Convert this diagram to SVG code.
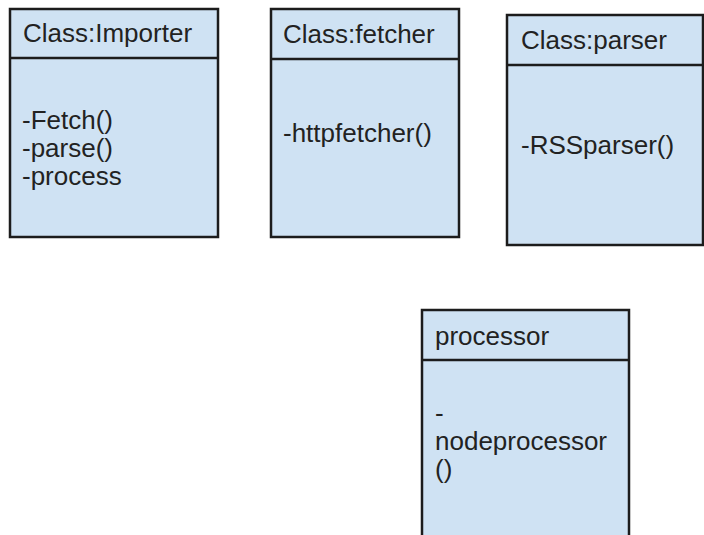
<svg xmlns="http://www.w3.org/2000/svg" width="704" height="535" viewBox="0 0 704 535">
<style>
.box{fill:#cfe2f3;stroke:#1c1c1c;stroke-width:2.5}
.div{stroke:#1c1c1c;stroke-width:2.5}
.t{font-family:"Liberation Sans",Arial,sans-serif;font-size:26px;fill:#222222}
</style>
<rect width="704" height="535" fill="#ffffff"/>
<g id="importer">
<rect class="box" x="10" y="9" width="208" height="228"/>
<line class="div" x1="10" y1="58" x2="218" y2="58"/>
<text class="t" x="23" y="42">Class:Importer</text>
<text class="t" x="22" y="129">-Fetch()</text>
<text class="t" x="22" y="157">-parse()</text>
<text class="t" x="22" y="185">-process</text>
</g>
<g id="fetcher">
<rect class="box" x="271" y="9" width="188" height="228"/>
<line class="div" x1="271" y1="59" x2="459" y2="59"/>
<text class="t" x="283" y="43">Class:fetcher</text>
<text class="t" x="283" y="142">-httpfetcher()</text>
</g>
<g id="parser">
<rect class="box" x="507" y="15" width="196" height="230"/>
<line class="div" x1="507" y1="65" x2="703" y2="65"/>
<text class="t" x="521" y="49">Class:parser</text>
<text class="t" x="521" y="154">-RSSparser()</text>
</g>
<g id="processor">
<path class="box" d="M422 537 V310 H629 V537"/>
<line class="div" x1="422" y1="360" x2="629" y2="360"/>
<text class="t" x="435" y="345">processor</text>
<text class="t" x="435" y="422">-</text>
<text class="t" x="435" y="450">nodeprocessor</text>
<text class="t" x="435" y="478">()</text>
</g>
<g id="connectors"></g>
</svg>
